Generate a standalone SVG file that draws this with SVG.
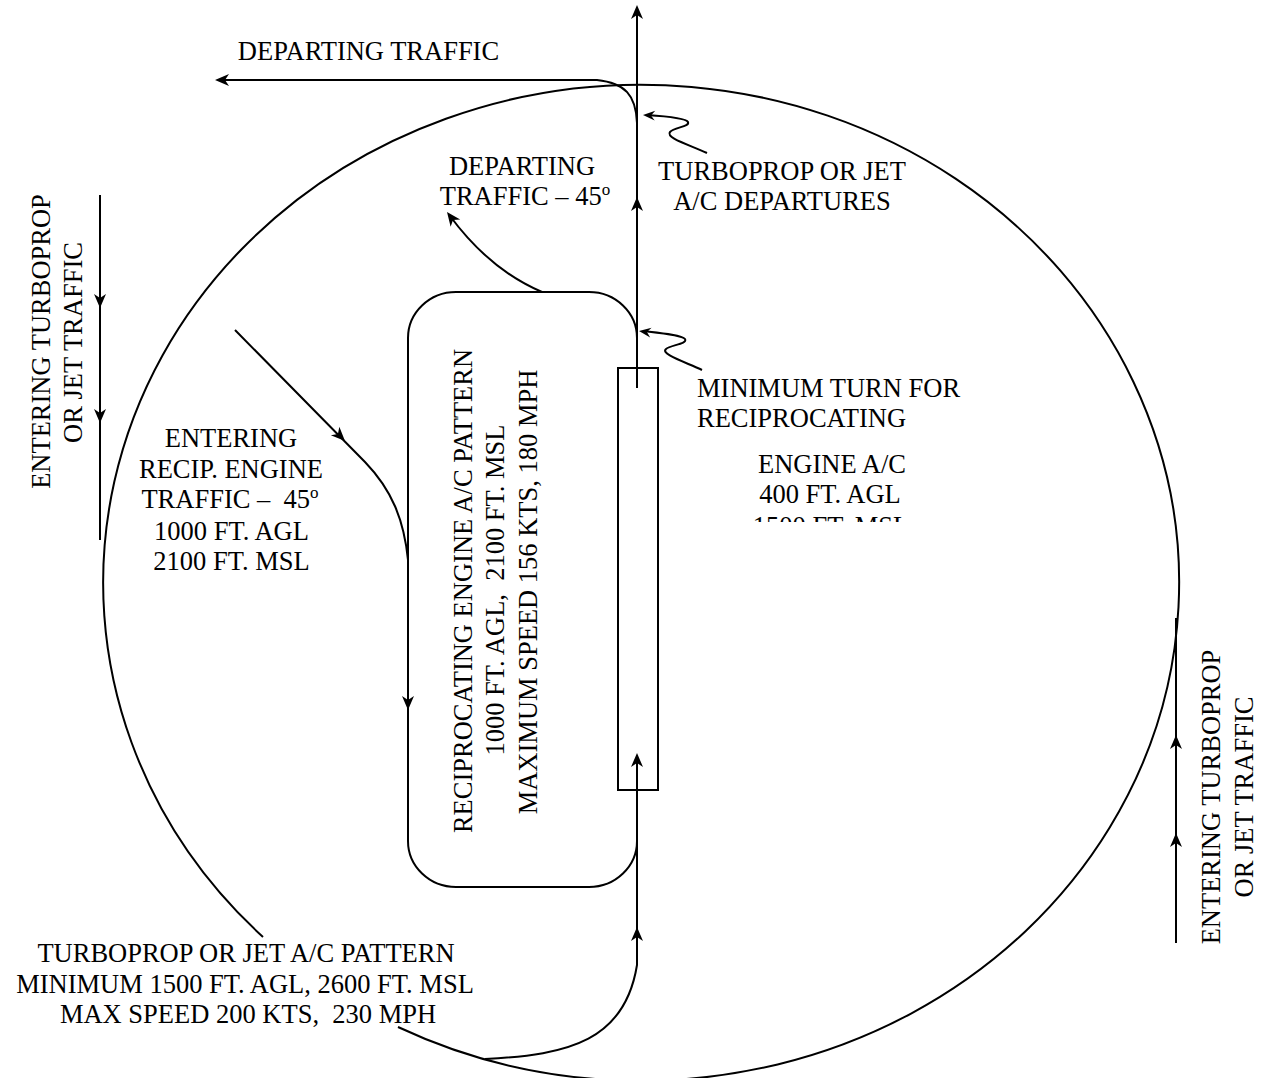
<svg xmlns="http://www.w3.org/2000/svg" xmlns:xlink="http://www.w3.org/1999/xlink" width="1264" height="1078" viewBox="0 0 1264 1078">
<style>
.ln{fill:none;stroke:#000;stroke-width:2}
.t{font-family:"Liberation Serif","Times New Roman",serif;font-size:26.5px;fill:#000}
.m{text-anchor:middle}
.sup{font-size:17px}
</style>
<defs>
<path id="ah" d="M0,0 L-14,-6 L-10,0 L-14,6 Z" fill="#000"/>
<path id="ahs" d="M0,0 L-12,-5 L-8,0 L-12,5 Z" fill="#000"/>
<clipPath id="clipMsl"><rect x="700" y="440" width="300" height="82"/></clipPath>
</defs>
<rect width="1264" height="1078" fill="#fff"/>

<g id="turbo-pattern">
<path class="ln" d="M398,1027 A538,498 0 1 0 263,937"/>
</g>

<g id="recip-pattern">
<rect class="ln" x="408" y="292" width="229" height="595" rx="48" ry="46"/>
</g>

<g id="runway">
<rect x="618" y="368" width="40" height="422" fill="#fff" stroke="#000" stroke-width="2"/>
</g>

<g id="connectors">
<path class="ln" d="M485,1059 C570,1055 625,1040 637,965 L637,790"/>
<use xlink:href="#ah" transform="translate(637,927) rotate(-90)"/>
<path class="ln" d="M637,790 L637,757"/>
<use xlink:href="#ah" transform="translate(637,753) rotate(-90)"/>
<path class="ln" d="M637,388 L637,8"/>
<use xlink:href="#ah" transform="translate(637,197) rotate(-90)"/>
<use xlink:href="#ah" transform="translate(637,5) rotate(-90)"/>
<path class="ln" d="M637,123 C636,95 625,83 597,80 L220,80"/>
<use xlink:href="#ah" transform="translate(215,80) rotate(180)"/>
<path class="ln" d="M542,292 Q490,270 450,216"/>
<use xlink:href="#ah" transform="translate(447,212) rotate(-127)"/>
<path class="ln" d="M235,330 L365,462 C392,490 404,520 408,560"/>
<use xlink:href="#ah" transform="translate(345,441) rotate(45)"/>
<use xlink:href="#ah" transform="translate(408,710) rotate(90)"/>
<path class="ln" d="M100,195 L100,540"/>
<use xlink:href="#ah" transform="translate(100,308) rotate(90)"/>
<use xlink:href="#ah" transform="translate(100,423) rotate(90)"/>
<path class="ln" d="M1176,943 L1176,618"/>
<use xlink:href="#ah" transform="translate(1176,735) rotate(-90)"/>
<use xlink:href="#ah" transform="translate(1176,833) rotate(-90)"/>
<path class="ln" d="M707,153 C690,145 665,138 670,132 C674,127 690,127 688,122 C686,118 662,116 647,115"/>
<use xlink:href="#ahs" transform="translate(643,115) rotate(183)"/>
<path class="ln" d="M702,370 C685,362 660,354 666,349 C670,345 688,344 685,339 C682,335 660,333 643,331"/>
<use xlink:href="#ahs" transform="translate(639,331) rotate(188)"/>
</g>

<g id="labels" class="t">
<text class="m" x="368.5" y="60">DEPARTING TRAFFIC</text>
<text class="m" x="522" y="175">DEPARTING</text>
<text class="m" x="525" y="205">TRAFFIC – 45<tspan class="sup" dy="-10">o</tspan></text>
<text class="m" x="782" y="180">TURBOPROP OR JET</text>
<text class="m" x="782" y="210">A/C DEPARTURES</text>
<text x="697" y="397">MINIMUM TURN FOR</text>
<text x="697" y="427">RECIPROCATING</text>
<text class="m" x="832" y="473">ENGINE A/C</text>
<text class="m" x="830" y="503">400 FT. AGL</text>
<text class="m" x="831" y="535" clip-path="url(#clipMsl)">1500 FT. MSL</text>
<text class="m" x="231" y="447">ENTERING</text>
<text class="m" x="231" y="478">RECIP. ENGINE</text>
<text class="m" x="230" y="508" xml:space="preserve">TRAFFIC –  45<tspan class="sup" dy="-10">o</tspan></text>
<text class="m" x="231.5" y="540">1000 FT. AGL</text>
<text class="m" x="231.5" y="570">2100 FT. MSL</text>
<text class="m" x="246" y="962">TURBOPROP OR JET A/C PATTERN</text>
<text class="m" x="245" y="993">MINIMUM 1500 FT. AGL, 2600 FT. MSL</text>
<text class="m" x="248" y="1023" xml:space="preserve">MAX SPEED 200 KTS,  230 MPH</text>
<text class="m" transform="translate(472,591) rotate(-90)">RECIPROCATING ENGINE A/C PATTERN</text>
<text class="m" transform="translate(504,590) rotate(-90)" xml:space="preserve">1000 FT. AGL,  2100 FT. MSL</text>
<text class="m" transform="translate(537,592) rotate(-90)">MAXIMUM SPEED 156 KTS, 180 MPH</text>
<text class="m" transform="translate(50,341.5) rotate(-90)">ENTERING TURBOPROP</text>
<text class="m" transform="translate(82,342.5) rotate(-90)">OR JET TRAFFIC</text>
<text class="m" transform="translate(1220,797) rotate(-90)">ENTERING TURBOPROP</text>
<text class="m" transform="translate(1253,797) rotate(-90)">OR JET TRAFFIC</text>
</g>
</svg>
